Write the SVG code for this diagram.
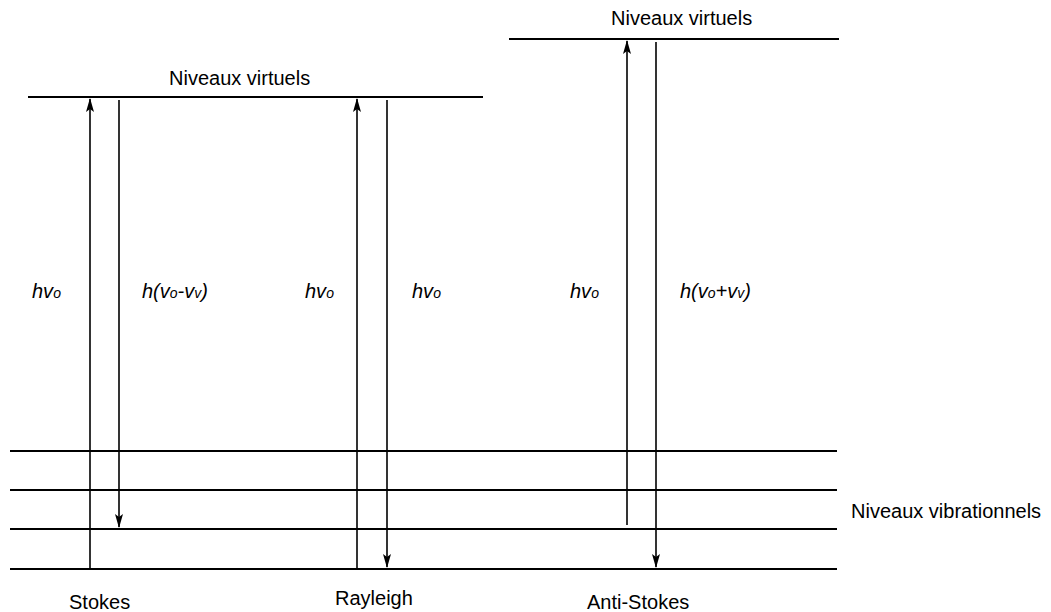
<svg xmlns="http://www.w3.org/2000/svg" width="1051" height="612" viewBox="0 0 1051 612">
<style>
.ln{stroke:#000;stroke-width:2;fill:none}
.ar{stroke:#000;stroke-width:1.6;fill:none}
text{font-family:"Liberation Sans",Arial,sans-serif;font-size:20px;fill:#000}
.it{font-style:italic}
.sub{font-size:14px}
</style>
<defs>
<marker id="ah" viewBox="0 0 14 8" refX="13" refY="4" markerWidth="14" markerHeight="8" markerUnits="userSpaceOnUse" orient="auto">
<path d="M0,0 L14,4 L0,8 L3,4 Z" fill="#000"/>
</marker>
</defs>
<g id="levels">
<line class="ln" x1="28" y1="97" x2="483" y2="97"/>
<line class="ln" x1="509" y1="39" x2="839" y2="39"/>
<line class="ln" x1="10" y1="451" x2="837" y2="451"/>
<line class="ln" x1="10" y1="490" x2="837" y2="490"/>
<line class="ln" x1="10" y1="529" x2="837" y2="529"/>
<line class="ln" x1="10" y1="569" x2="837" y2="569"/>
</g>
<g id="connectors">
<line class="ar" x1="90" y1="569" x2="90" y2="99" marker-end="url(#ah)"/>
<line class="ar" x1="119" y1="100" x2="119" y2="527" marker-end="url(#ah)"/>
<line class="ar" x1="357" y1="569" x2="357" y2="99" marker-end="url(#ah)"/>
<line class="ar" x1="387" y1="100" x2="387" y2="567" marker-end="url(#ah)"/>
<line class="ar" x1="627" y1="525" x2="627" y2="41" marker-end="url(#ah)"/>
<line class="ar" x1="656" y1="42" x2="656" y2="567" marker-end="url(#ah)"/>
</g>
<g id="labels">
<text x="169" y="85">Niveaux virtuels</text>
<text x="611" y="25">Niveaux virtuels</text>
<text x="851" y="518">Niveaux vibrationnels</text>
<text x="69" y="609">Stokes</text>
<text x="335" y="605">Rayleigh</text>
<text x="587" y="609">Anti-Stokes</text>
<text class="it" x="32" y="298">hv<tspan class="sub">o</tspan></text>
<text class="it" x="142" y="298">h(v<tspan class="sub">o</tspan>-v<tspan class="sub">v</tspan>)</text>
<text class="it" x="305" y="298">hv<tspan class="sub">o</tspan></text>
<text class="it" x="412" y="298">hv<tspan class="sub">o</tspan></text>
<text class="it" x="570" y="298">hv<tspan class="sub">o</tspan></text>
<text class="it" x="680" y="298">h(v<tspan class="sub">o</tspan>+v<tspan class="sub">v</tspan>)</text>
</g>
</svg>
